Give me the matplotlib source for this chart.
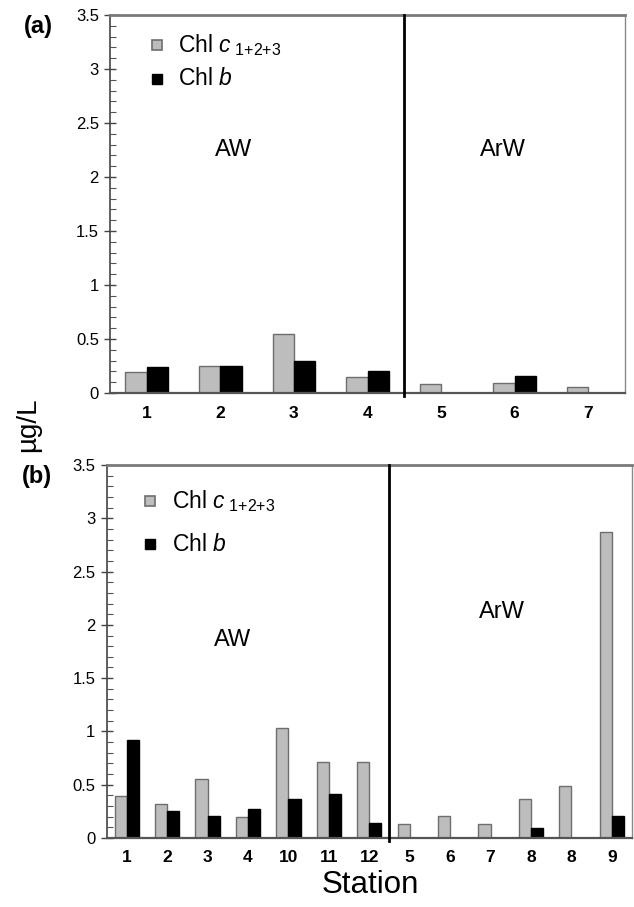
import numpy as np
import matplotlib
matplotlib.use("Agg")
import matplotlib.pyplot as plt
from matplotlib.ticker import MultipleLocator, FuncFormatter

plt.rcParams['font.family'] = ['Liberation Sans', 'DejaVu Sans']
plt.rcParams['mathtext.fontset'] = 'custom'
plt.rcParams['mathtext.rm'] = 'Liberation Sans'
plt.rcParams['mathtext.it'] = 'Liberation Sans:italic'

# Panel (a)
stations_a = ['1', '2', '3', '4', '5', '6', '7']
chl_c_a = [0.19, 0.25, 0.55, 0.15, 0.085, 0.09, 0.055]
chl_b_a = [0.245, 0.25, 0.295, 0.20, 0.0, 0.155, 0.0]
n_aw_a = 4

# Panel (b)
stations_b = ['1', '2', '3', '4', '10', '11', '12', '5', '6', '7', '8', '8', '9']
chl_c_b = [0.39, 0.32, 0.555, 0.20, 1.035, 0.715, 0.715, 0.135, 0.21, 0.135, 0.37, 0.49, 2.87]
chl_b_b = [0.915, 0.25, 0.205, 0.275, 0.365, 0.41, 0.145, 0.0, 0.0, 0.0, 0.095, 0.0, 0.21]
n_aw_b = 7

label_c = r'Chl $\mathit{c}$$_{\ 1{+}2{+}3}$'
label_b = r'Chl $\mathit{b}$'

GRAY = '#bdbdbd'
GRAY_EDGE = '#6e6e6e'

fig = plt.figure(figsize=(6.34, 9.07), dpi=100)


def draw_panel(ax, stations, c_vals, b_vals, n_aw, bw, leg_pos, leg_gap, aw_pos, arw_pos):
    x = np.arange(len(stations))
    ax.bar(x - bw / 2, c_vals, width=bw, color=GRAY, edgecolor=GRAY_EDGE, linewidth=1.0)
    ax.bar(x + bw / 2, b_vals, width=bw, color='black', edgecolor='black', linewidth=1.0)
    ax.set_xlim(-0.5, len(stations) - 0.5)
    ax.set_ylim(0, 3.5)
    ax.set_xticks(x)
    ax.set_xticklabels(stations, fontsize=12.5, fontweight='bold')
    ax.tick_params(axis='x', length=0, pad=9)
    ax.yaxis.set_major_locator(MultipleLocator(0.5))
    ax.yaxis.set_minor_locator(MultipleLocator(0.1))
    ax.yaxis.set_major_formatter(FuncFormatter(lambda v, p: f'{v:g}'))
    ax.tick_params(axis='y', which='major', direction='inout', length=8, width=1.0,
                   labelsize=12, pad=4, color='#444444')
    ax.tick_params(axis='y', which='minor', direction='in', length=4, width=0.8, color='#555555')
    for side, col, lw in [('top', '#7a7a7a', 2.0), ('right', '#8a8a8a', 1.0),
                          ('left', '#444444', 1.2), ('bottom', '#555555', 1.6)]:
        ax.spines[side].set_color(col)
        ax.spines[side].set_linewidth(lw)
    # water-mass boundary
    ax.plot([n_aw - 0.5, n_aw - 0.5], [-0.03, 3.5], color='black', lw=2.0,
            clip_on=False, zorder=5)
    ax.text(aw_pos[0], aw_pos[1], 'AW', transform=ax.transAxes, fontsize=17,
            ha='center', va='center')
    ax.text(arw_pos[0], arw_pos[1], 'ArW', transform=ax.transAxes, fontsize=17,
            ha='center', va='center')
    # legend
    lx, ly = leg_pos
    ax.plot([lx], [ly], marker='s', ms=7.5, mfc=GRAY, mec=GRAY_EDGE, mew=1.2,
            transform=ax.transAxes, clip_on=False)
    ax.plot([lx], [ly - leg_gap], marker='s', ms=7, mfc='black', mec='black',
            transform=ax.transAxes, clip_on=False)
    ax.text(lx + 0.042, ly, label_c, transform=ax.transAxes, fontsize=16.5,
            ha='left', va='center')
    ax.text(lx + 0.042, ly - leg_gap, label_b, transform=ax.transAxes, fontsize=16.5,
            ha='left', va='center')


W, H = 634, 907
ax_a = fig.add_axes([110 / W, 1 - 393 / H, (625 - 110) / W, (393 - 15) / H])
draw_panel(ax_a, stations_a, chl_c_a, chl_b_a, n_aw_a, 0.29,
           leg_pos=(0.091, 0.921), leg_gap=0.09,
           aw_pos=(0.239, 0.643), arw_pos=(0.763, 0.643))

ax_b = fig.add_axes([106.5 / W, 1 - 838 / H, (632 - 106.5) / W, (838 - 465) / H])
draw_panel(ax_b, stations_b, chl_c_b, chl_b_b, n_aw_b, 0.3,
           leg_pos=(0.083, 0.903), leg_gap=0.115,
           aw_pos=(0.240, 0.531), arw_pos=(0.753, 0.606))

fig.text(38 / W, 1 - 26 / H, '(a)', fontsize=17, fontweight='bold', ha='center', va='center')
fig.text(37 / W, 1 - 477 / H, '(b)', fontsize=17, fontweight='bold', ha='center', va='center')
fig.text(28 / W, 1 - 425 / H, 'µg/L', fontsize=20, rotation=90, ha='center', va='center')
fig.text(370 / W, 1 - 885 / H, 'Station', fontsize=22.5, ha='center', va='center')

fig.savefig('out.png', dpi=100)
